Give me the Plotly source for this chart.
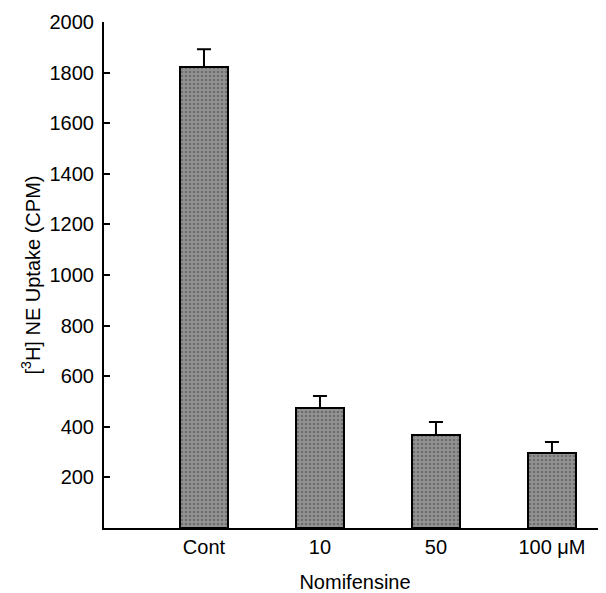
import plotly.graph_objects as go

categories = ["Cont", "10", "50", "100 μM"]
uptake_cpm = [1822, 474, 368, 296]
sem_cpm = [70, 48, 51, 44]
y_ticks = [200, 400, 600, 800, 1000, 1200, 1400, 1600, 1800, 2000]

x_pos = list(range(len(categories)))

fig = go.Figure()
fig.add_trace(go.Bar(
    x=x_pos,
    y=uptake_cpm,
    width=0.42,
    marker=dict(
        color="#8a8a8a",
        line=dict(color="black", width=2),
        pattern=dict(shape=".", fgcolor="#4a4a4a", bgcolor="#939393", size=4, solidity=0.35),
    ),
    error_y=dict(type="data", array=sem_cpm, arrayminus=[0] * len(sem_cpm),
                 color="black", thickness=2, width=7, symmetric=False),
    showlegend=False,
))

fig.update_layout(
    width=598, height=585,
    margin=dict(l=96, r=0, t=14, b=65),
    paper_bgcolor="white", plot_bgcolor="white",
    font=dict(family="Arial, Liberation Sans, sans-serif", size=20, color="black"),
    bargap=0,
)
fig.update_xaxes(
    range=[-0.862, 3.466],
    tickvals=x_pos, ticktext=categories,
    showline=True, linecolor="black", linewidth=2,
    ticks="", showgrid=False, zeroline=False, automargin=False,
    title=dict(text="Nomifensine", standoff=20, font=dict(size=20)),
    tickfont=dict(size=20),
)
fig.update_yaxes(
    range=[0, 2000],
    tickvals=y_ticks,
    showline=True, linecolor="black", linewidth=2,
    ticks="inside", ticklen=6, tickwidth=2, tickcolor="black",
    ticklabelstandoff=4,
    showgrid=False, zeroline=False, automargin=False,
    title=dict(text="[<sup>3</sup>H] NE Uptake (CPM)", standoff=4, font=dict(size=20)),
    tickfont=dict(size=20),
)

fig.write_html("out.html")
